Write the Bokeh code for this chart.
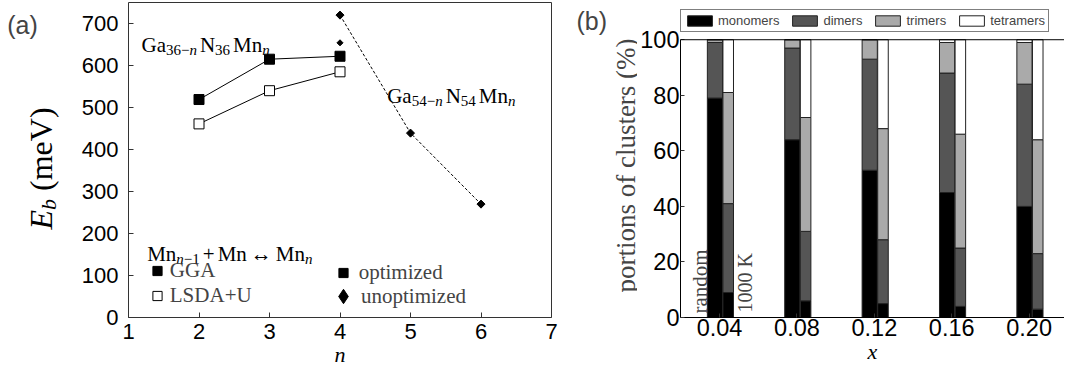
import math
from bokeh.plotting import figure
from bokeh.models import (ColumnDataSource, Label, Legend, LegendItem, LinearAxis,
                          FixedTicker, Range1d, Span)
from bokeh.layouts import row
from bokeh.embed import file_html
from bokeh.resources import INLINE

# ---------------- data: panel (a) ----------------
n_ticks = [1, 2, 3, 4, 5, 6, 7]
eb_ticks = [0, 100, 200, 300, 400, 500, 600, 700]
n_gga = [2, 3, 4]
eb_gga = [519, 615, 622]
n_lsda = [2, 3, 4]
eb_lsda = [461, 540, 585]
n_unopt = [4, 5, 6]
eb_unopt = [720, 439, 270]
n_unopt36 = [4]
eb_unopt36 = [654]

# ---------------- data: panel (b) ----------------
x_conc = [0.04, 0.08, 0.12, 0.16, 0.20]
x_tick_labels = ["0.04", "0.08", "0.12", "0.16", "0.20"]
pct_ticks = [0, 20, 40, 60, 80, 100]
cluster_kinds = ["monomers", "dimers", "trimers", "tetramers"]
random_monomers = [79, 64, 53, 45, 40]
random_dimers = [20, 33, 40, 43, 44]
random_trimers = [1, 3, 7, 11, 15]
random_tetramers = [0, 0, 0, 1, 1]
k1000_monomers = [9, 6, 5, 4, 3]
k1000_dimers = [32, 25, 23, 21, 20]
k1000_trimers = [40, 41, 40, 41, 41]
k1000_tetramers = [19, 28, 32, 34, 36]

SERIF = "Liberation Serif"
SANS = "Liberation Sans"
INK = "#222222"
FRAME = "#333333"
H = 372
TOP, BOTTOM = 2, 55

# Times-compatible advance widths (em) for composing subscripts
W_REG = {"G": .722, "a": .444, "N": .722, "M": .889, "n": .5, "−": .564, "+": .564,
         "↔": 1.0, "(": .333, ")": .333, "m": .778, "e": .444, "V": .722, " ": .25}
W_ITA = {"n": .5, "E": .611, "b": .5}


def text_w(s, size, italic):
    tab = W_ITA if italic else W_REG
    return sum(tab.get(c, .5) for c in s) * size


def compose(fig, pieces, x0, y0, vertical=False):
    adv = 0.0
    for piece in pieces:
        if piece[0] == "gap":
            adv += piece[1]
            continue
        txt, size, italic, shift = piece
        if vertical:
            x, y, ang, base = x0 - shift, y0 + adv, math.pi / 2, "middle"
        else:
            x, y, ang, base = x0 + adv, y0 + shift, 0, "alphabetic"
        fig.add_layout(Label(x=x, y=y, x_units="screen", y_units="screen", text=txt,
                             angle=ang, text_font=SERIF, text_font_size=f"{size}px",
                             text_font_style="italic" if italic else "normal",
                             text_align="left", text_baseline=base,
                             text_color="black"))
        adv += text_w(txt, size, italic)


def add_axis(fig, side, ticks, fs, standoff, tick_len, overrides=None, line=None,
             bounds="auto", label=None):
    ax = LinearAxis(ticker=FixedTicker(ticks=ticks), axis_line_color=line,
                    major_tick_in=tick_len, major_tick_out=0, bounds=bounds,
                    major_tick_line_color=FRAME, minor_tick_line_color=None,
                    major_label_standoff=standoff,
                    major_label_text_font=SANS,
                    major_label_text_font_size=fs,
                    major_label_text_color="black")
    if label:
        ax.axis_label = label
        ax.axis_label_text_font = SERIF
        ax.axis_label_text_font_style = "italic"
        ax.axis_label_text_font_size = "22px"
        ax.axis_label_standoff = 0
        ax.axis_label_text_color = "black"
    if overrides:
        ax.major_label_overrides = overrides
    fig.add_layout(ax, side)
    return ax


def text_strip(width):
    f = figure(width=width, height=H, x_range=Range1d(0, 1), y_range=Range1d(0, 1),
               x_axis_type=None, y_axis_type=None, output_backend="svg",
               toolbar_location=None, min_border_left=0, min_border_right=0,
               min_border_top=TOP, min_border_bottom=BOTTOM)
    f.outline_line_color = None
    return f


# ---------------- left text strip: (a) and E_b ----------------
fa = text_strip(70)
fa.add_layout(Label(x=6.7, y=293, x_units="screen", y_units="screen", text="(a)",
                    text_font=SANS, text_font_size="25px", text_align="left",
                    text_baseline="middle"))
compose(fa, [("E", 32, True, 0), ("b", 22, True, -7), ("gap", 8),
             ("(meV)", 32, False, 0)], 40.5, 88, vertical=True)

# ======================= panel (a) =======================
pa = figure(width=490, height=H, x_range=Range1d(1, 7), y_range=Range1d(0, 750),
            x_axis_type=None, y_axis_type=None, output_backend="svg",
            toolbar_location=None, min_border_left=58, min_border_right=9,
            min_border_top=TOP, min_border_bottom=BOTTOM)
pa.outline_line_color = FRAME
pa.outline_line_width = 1

add_axis(pa, "below", n_ticks, "22px", 6, 5, label="n")
add_axis(pa, "left", eb_ticks, "22px", 10, 5)

pa.line(n_gga, eb_gga, line_color="black", line_width=1)
pa.line(n_lsda, eb_lsda, line_color="black", line_width=1)
pa.line(n_unopt, eb_unopt, line_color="black", line_width=1, line_dash="3 2")
r_gga = pa.scatter(n_gga, eb_gga, marker="square", size=10, fill_color="black",
                   line_color="black")
r_lsda = pa.scatter(n_lsda, eb_lsda, marker="square", size=10, fill_color="white",
                    line_color="black", line_width=1)
# diamond key renderer (hidden beneath the rotated squares below)
r_diamond = pa.scatter(n_unopt, eb_unopt, marker="diamond", size=5, fill_color="black",
                       line_color="black")
pa.scatter(n_unopt, eb_unopt, marker="square", angle=math.pi / 4, size=5.7,
           fill_color="black", line_color="black")
pa.scatter(n_unopt36, eb_unopt36, marker="square", angle=math.pi / 4, size=4.3,
           fill_color="black", line_color="black")

leg_common = dict(margin=0, padding=0, spacing=0, label_text_font=SERIF,
                  label_text_font_size="21px", border_line_color=None,
                  background_fill_alpha=0, orientation="vertical")
leg_a = Legend(items=[LegendItem(label="GGA", renderers=[r_gga]),
                      LegendItem(label="LSDA+U", renderers=[r_lsda])],
               location=(15.8, 9.5), label_standoff=0, glyph_width=26, glyph_height=23,
               label_height=23, **leg_common)
leg_b1 = Legend(items=[LegendItem(label="optimized", renderers=[r_gga])],
                location=(201.7, 32.5), label_standoff=3, glyph_width=26,
                glyph_height=23, label_height=23, **leg_common)
leg_b2 = Legend(items=[LegendItem(label="unoptimized", renderers=[r_diamond])],
                location=(197, 3), label_standoff=0, glyph_width=36,
                glyph_height=36, label_height=36, **leg_common)
pa.add_layout(leg_a)
pa.add_layout(leg_b1)
pa.add_layout(leg_b2)

SUB = -5
compose(pa, [("Ga", 21, False, 0), ("36", 15, False, SUB), ("−", 15, False, SUB),
             ("n", 15, True, SUB), ("gap", 3), ("N", 21, False, 0),
             ("36", 15, False, SUB), ("gap", 3), ("Mn", 21, False, 0),
             ("n", 15, True, SUB)], 13, 273)
compose(pa, [("Ga", 21, False, 0), ("54", 15, False, SUB), ("−", 15, False, SUB),
             ("n", 15, True, SUB), ("gap", 3), ("N", 21, False, 0),
             ("54", 15, False, SUB), ("gap", 3), ("Mn", 21, False, 0),
             ("n", 15, True, SUB)], 258.7, 222)
compose(pa, [("Mn", 21, False, 0), ("n", 15, True, SUB), ("−1", 15, False, SUB),
             ("gap", 3), ("+", 21, False, 0), ("gap", 3), ("Mn", 21, False, 0),
             ("gap", 4), ("↔", 21, False, 0), ("gap", 4), ("Mn", 21, False, 0),
             ("n", 15, True, SUB)], 18.7, 63.7)

# ---------------- middle text strip: (b) and y label ----------------
fb = text_strip(77)
fb.add_layout(Label(x=16, y=296.3, x_units="screen", y_units="screen", text="(b)",
                    text_font=SANS, text_font_size="25px", text_align="left",
                    text_baseline="middle"))
fb.add_layout(Label(x=65, y=152, x_units="screen", y_units="screen",
                    text="portions of clusters (%)", angle=math.pi / 2,
                    text_font=SERIF, text_font_size="27px", text_align="center",
                    text_baseline="middle"))

# ======================= panel (b) =======================
# the frame reaches above 100 % so the key box sits above the bars, as in the figure
pb = figure(width=427, height=H, x_range=Range1d(0.0198, 0.2183),
            y_range=Range1d(0, 113.4), x_axis_type=None, y_axis_type=None,
            output_backend="svg", toolbar_location=None, min_border_left=41,
            min_border_right=0, min_border_top=TOP, min_border_bottom=BOTTOM)
pb.outline_line_color = None

add_axis(pb, "left", pct_ticks, "23.5px", 1, 4, line="black", bounds=(0, 100))
add_axis(pb, "below", x_conc, "23.5px", 1, 4, line="black", label="x",
         overrides={v: s for v, s in zip(x_conc, x_tick_labels)})
pb.add_layout(Span(location=100, dimension="width", line_color="black", line_width=1))

RAND_SHIFT, RAND_W = -0.00239, 0.00786
HOT_SHIFT, HOT_W = 0.00447, 0.00545
fills = ["#000000", "#555555", "#aaaaaa", "#ffffff"]

src_random = ColumnDataSource(dict(x=[v + RAND_SHIFT for v in x_conc],
                                   monomers=random_monomers, dimers=random_dimers,
                                   trimers=random_trimers, tetramers=random_tetramers))
src_1000 = ColumnDataSource(dict(x=[v + HOT_SHIFT for v in x_conc],
                                 monomers=k1000_monomers, dimers=k1000_dimers,
                                 trimers=k1000_trimers, tetramers=k1000_tetramers))
rr = pb.vbar_stack(cluster_kinds, x="x", width=RAND_W, fill_color=fills,
                   line_color=INK, line_width=1, source=src_random)
pb.vbar_stack(cluster_kinds, x="x", width=HOT_W, fill_color=fills,
              line_color=INK, line_width=1, source=src_1000)

leg_c = Legend(items=[LegendItem(label=k, renderers=[r]) for k, r in zip(cluster_kinds, rr)],
               orientation="horizontal", location=(0, 284.7), margin=0, padding=3,
               spacing=10, glyph_width=31, glyph_height=13, label_height=13,
               label_standoff=3, label_text_font=SANS, label_text_font_size="13px",
               border_line_color="black", border_line_width=1,
               background_fill_color="white", background_fill_alpha=1)
pb.add_layout(leg_c)

pb.add_layout(Label(x=19, y=4, x_units="screen", y_units="screen", text="random",
                    angle=math.pi / 2, text_font=SERIF, text_font_size="21px",
                    text_align="left", text_baseline="middle"))
pb.add_layout(Label(x=64, y=5, x_units="screen", y_units="screen", text="1000 K",
                    angle=math.pi / 2, text_font=SERIF, text_font_size="20px",
                    text_align="left", text_baseline="middle"))

layout = row(fa, pa, fb, pb)
open("out.html", "w").write(file_html(layout, INLINE))
